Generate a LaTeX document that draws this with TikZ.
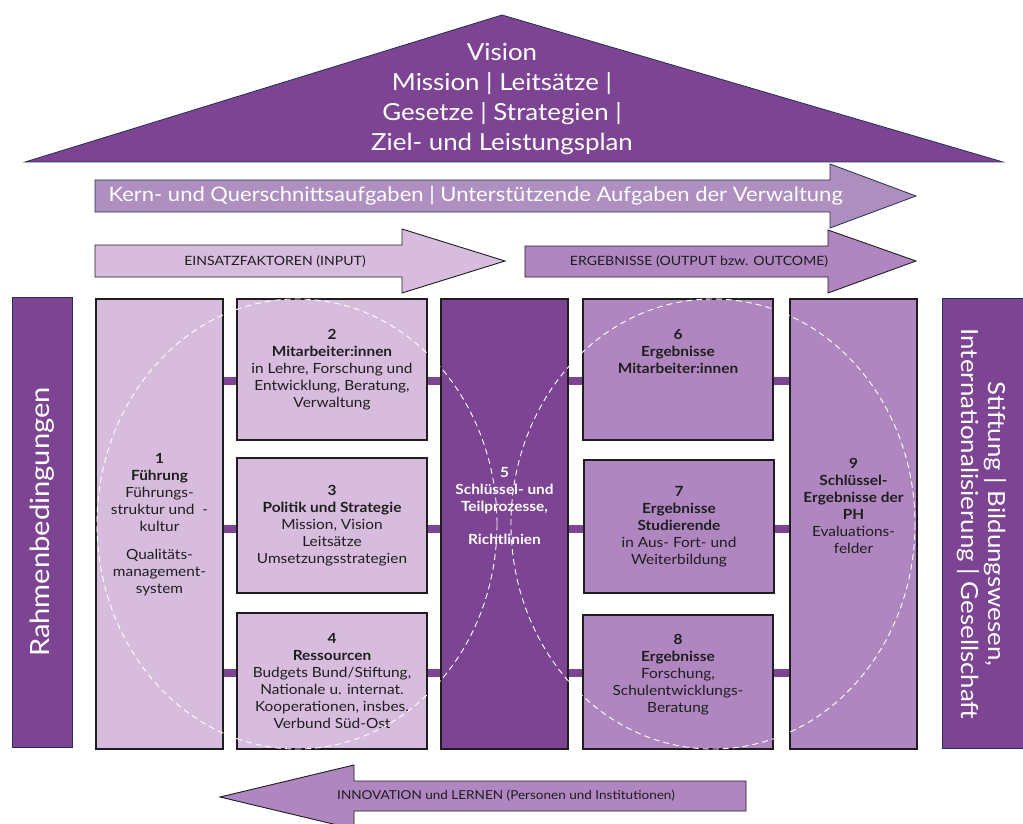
\documentclass[tikz,border=0pt]{standalone}
\usepackage{fontspec}
\setmainfont{Lato}[FakeStretch=1.1]
\usepackage{tikz}
\usetikzlibrary{positioning,calc}
\definecolor{housedark}{RGB}{126,68,148}
\definecolor{houselight}{RGB}{215,188,222}
\definecolor{housemid}{RGB}{176,134,193}
\definecolor{housegrey}{RGB}{175,143,191}
\definecolor{framenavy}{RGB}{36,48,82}
\definecolor{textdark}{RGB}{30,30,30}

\begin{document}
\begin{tikzpicture}[x=1pt,y=-1pt,
    pillar/.style={rectangle,draw=textdark,line width=1.2pt,inner sep=0pt},
    inbox/.style={pillar,fill=houselight},
    outbox/.style={pillar,fill=housemid},
    keybox/.style={pillar,fill=housedark},
    sidebox/.style={rectangle,fill=housedark,draw=framenavy,line width=0.8pt,inner sep=0pt,minimum height=450pt},
    boxtext/.style={align=center,text=textdark,font=\fontsize{14}{17}\selectfont},
    arrowtext/.style={text=textdark,font=\fontsize{12.8}{15}\selectfont},
    flow/.style={draw=textdark,line width=0.9pt},
    link/.style={housedark,line width=8pt},
    venn/.style={white,line width=0.9pt,dash pattern=on 6pt off 4pt}
]
    \useasboundingbox (0,0) rectangle (1023,824);

    % Roof
    \draw[fill=housedark,draw=framenavy,line width=0.8pt] (25,162) -- (502,15) -- (1003,162) -- cycle;
    \node[white,align=center,font=\fontsize{23.5}{30}\selectfont] (roof) at (502,99) {Vision\\Mission | Leitsätze |\\Gesetze | Strategien |\\Ziel- und Leistungsplan};

    % Arrows
    \draw[fill=housegrey,draw=framenavy,line width=0.8pt] (95,180) -- (830,180) -- (830,164) -- (916,196) -- (830,228) -- (830,212) -- (95,212) -- cycle;
    \node[white,anchor=west,font=\fontsize{20}{24}\selectfont] (tasks) at (105,196) {Kern- und Querschnittsaufgaben | Unterstützende Aufgaben der Verwaltung};

    \draw[flow,fill=houselight] (95,245) -- (402,245) -- (402,229) -- (505,261) -- (402,293) -- (402,277) -- (95,277) -- cycle;
    \node[arrowtext] (input) at (275,261) {EINSATZFAKTOREN (INPUT)};

    \draw[flow,fill=housemid] (525,246) -- (828,246) -- (828,230) -- (916,261) -- (828,293) -- (828,277) -- (525,277) -- cycle;
    \node[arrowtext] (output) at (699,261) {ERGEBNISSE (OUTPUT bzw. OUTCOME)};

    \draw[flow,fill=housemid] (746,781) -- (354,781) -- (354,765) -- (220,797) -- (354,829) -- (354,811) -- (746,811) -- cycle;
    \node[arrowtext,font=\fontsize{12.3}{15}\selectfont] (learn) at (506,796) {INNOVATION und LERNEN (Personen und Institutionen)};

    % Side frames
    \node[sidebox,minimum width=60pt] (frame) at (42,522) {};
    \node[white,rotate=90,font=\fontsize{26.5}{32}\selectfont] (frametext) at (frame) {Rahmenbedingungen};
    \node[sidebox,minimum width=88pt] (society) at (986,523) {};
    \node[white,rotate=-90,align=center,font=\fontsize{23.5}{27}\selectfont] (societytext) at (982,524) {Stiftung | Bildungswesen,\\Internationalisierung | Gesellschaft};

    % Boxes
    \node[inbox,minimum width=127pt,minimum height=450pt] (b1) at (159.5,524) {};
    \node[inbox,minimum width=190pt,minimum height=141pt] (b2) at (332,369.5) {};
    \node[inbox,minimum width=190pt,minimum height=135pt] (b3) at (332,525.5) {};
    \node[inbox,minimum width=190pt,minimum height=136pt] (b4) at (332,681) {};
    \node[keybox,minimum width=127pt,minimum height=450pt] (b5) at (504.5,524) {};
    \node[outbox,minimum width=190pt,minimum height=141pt] (b6) at (678,369.5) {};
    \node[outbox,minimum width=190pt,minimum height=133pt] (b7) at (679,526.5) {};
    \node[outbox,minimum width=190pt,minimum height=134pt] (b8) at (678,682) {};
    \node[outbox,minimum width=127pt,minimum height=450pt] (b9) at (853.5,524) {};

    % Links between the columns
    \coordinate (row1) at (0,381);
    \coordinate (row2) at (0,529);
    \coordinate (row3) at (0,673);
    \foreach \r/\m/\o in {row1/b2/b6,row2/b3/b7,row3/b4/b8} {
        \draw[link] (b1.east |- \r) -- (\m.west |- \r);
        \draw[link] (\m.east |- \r) -- (b5.west |- \r);
        \draw[link] (b5.east |- \r) -- (\o.west |- \r);
        \draw[link] (\o.east |- \r) -- (b9.west |- \r);
    }

    % Box texts
    \node[boxtext] (t1) at (159.5,524.5) {\textbf{1}\\\textbf{Führung}\\Führungs-\\struktur und~~-\\kultur\\[11pt]Qualitäts-\\management-\\system};
    \node[boxtext] (t2) at (332,370) {\textbf{2}\\\textbf{Mitarbeiter:innen}\\in Lehre, Forschung und\\Entwicklung, Beratung,\\Verwaltung};
    \node[boxtext] (t3) at (332,526) {\textbf{3}\\\textbf{Politik und Strategie}\\Mission, Vision\\Leitsätze\\Umsetzungsstrategien};
    \node[boxtext] (t4) at (332,681) {\textbf{4}\\\textbf{Ressourcen}\\Budgets Bund/Stiftung,\\Nationale u. internat.\\Kooperationen, insbes.\\Verbund Süd-Ost};
    \node[boxtext,text=white,font=\fontsize{14}{17}\selectfont\bfseries] (t5) at (504.5,506) {5\\Schlüssel- und\\Teilprozesse,\\[16pt]Richtlinien};
    \node[boxtext,font=\fontsize{14}{17}\selectfont\bfseries] (t6) at (678,351) {6\\Ergebnisse\\Mitarbeiter:innen};
    \node[boxtext] (t7) at (679,527) {\textbf{7}\\\textbf{Ergebnisse}\\\textbf{Studierende}\\in Aus- Fort- und\\Weiterbildung};
    \node[boxtext] (t8) at (678,675) {\textbf{8}\\\textbf{Ergebnisse}\\Forschung,\\Schulentwicklungs-\\Beratung};
    \node[boxtext] (t9) at (853.5,506) {\textbf{9}\\\textbf{Schlüssel-}\\\textbf{Ergebnisse der}\\\textbf{PH}\\Evaluations-\\felder};

    % Dashed circles
    \draw[venn] (297,524) ellipse [x radius=200,y radius=225];
    \draw[venn] (713,524) ellipse [x radius=202,y radius=225];
\end{tikzpicture}
\end{document}
